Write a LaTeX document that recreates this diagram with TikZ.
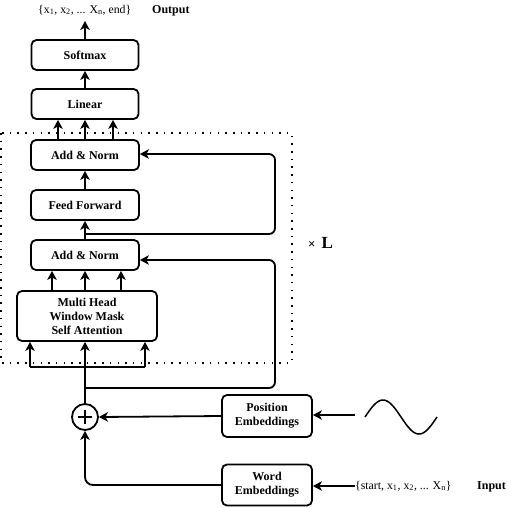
\documentclass[tikz,border=0pt]{standalone}
\usepackage{fontspec}
\setmainfont{Liberation Serif}
\usetikzlibrary{arrows.meta,positioning}
\tikzset{
  blk/.style={draw, line width=1.8pt, rounded corners=5pt, align=center,
    font=\fontsize{12}{14}\selectfont\bfseries, inner sep=0pt},
  arr/.style={line width=1.8pt, -{Stealth[length=9pt,width=9.5pt,inset=2.5pt]}},
  ln/.style={line width=1.8pt},
  lbl/.style={font=\fontsize{12}{14}\selectfont\bfseries, inner sep=0pt},
  seq/.style={font=\fontsize{11.8}{13}\selectfont, inner sep=0pt},
}
\begin{document}
\begin{tikzpicture}[x=1pt,y=-1pt]
\useasboundingbox (0,0) rectangle (511,507);
% dotted repeat frame
\draw[line width=1.5pt, dash pattern=on 1.5pt off 6.2pt] (1,133) rectangle (292,363);
% boxes
\node[blk, minimum width=107pt, minimum height=30pt] (soft) at (85,55) {Softmax};
\node[blk, minimum width=107pt, minimum height=30pt] (lin) at (85,104) {Linear};
\node[blk, minimum width=108pt, minimum height=30pt] (an2) at (85,155) {Add \& Norm};
\node[blk, minimum width=108pt, minimum height=30pt] (ff) at (85,205) {Feed Forward};
\node[blk, minimum width=108pt, minimum height=30pt] (an1) at (85,255) {Add \& Norm};
\node[blk, minimum width=140pt, minimum height=50pt] (mha) at (87,316) {Multi Head\\Window Mask\\Self Attention};
\node[blk, minimum width=90pt, minimum height=42pt] (pos) at (267,416) {Position\\Embeddings};
\node[blk, minimum width=90pt, minimum height=41pt] (word) at (267,485) {Word\\Embeddings};
\node[draw, circle, line width=1.8pt, minimum size=26pt, inner sep=0pt] (plus) at (85,417) {};
\draw[line width=1.8pt] (plus.center) ++(-7,0) -- ++(14,0) (plus.center) ++(0,-7) -- ++(0,14);
% texts
\node[seq, anchor=west] (outseq) at (38,10) {\{x\textsubscript{1}, x\textsubscript{2}, ... X\textsubscript{n}, end\}};
\node[lbl, anchor=west] (outl) at (152,11) {Output};
\node[seq, anchor=west] (inseq) at (355,486) {\{start, x\textsubscript{1}, x\textsubscript{2}, ... X\textsubscript{n}\}};
\node[lbl, anchor=west] (inl) at (477,487) {Input};
\node[inner sep=0pt, anchor=west] (times) at (308,243) {{\fontsize{13}{14}\selectfont\bfseries ×}\hspace{6pt}{\fontsize{17}{19}\selectfont\bfseries L}};
% coordinates
\coordinate (outtop) at (85,21);
\coordinate (sinL) at (355,415);
% vertical arrows
\draw[arr] (soft.north) -- (outtop);
\draw[arr] (lin.north) -- (soft.south);
\foreach \xx in {58,85,113} \draw[arr] (an2.north -| \xx,0) -- (lin.south -| \xx,0);
\draw[arr] (ff.north) -- (an2.south);
\draw[arr] (an1.north) -- (ff.south);
\foreach \xx in {52,85,121} \draw[arr] (mha.north -| \xx,0) -- (an1.south -| \xx,0);
% residual connections
\draw[arr, rounded corners=6pt] (85,234) -- (275,234) -- (275,154) -- (an2.east |- 0,154);
\draw[arr, rounded corners=6pt] (85,388) -- (275,388) -- (275,260) -- (an1.east |- 0,260);
% input to attention
\draw[ln] (30,367) -- (145,367);
\draw[arr] (30,367) -- (mha.south -| 30,0);
\draw[arr] (145,367) -- (mha.south -| 145,0);
\draw[arr] (plus.north) -- (mha.south -| 85,0);
% embeddings
\draw[arr] (pos.west) -- (plus.east);
\draw[arr, rounded corners=8pt] (word.west) -- (85,485) -- (plus.south);
\draw[arr] (sinL) -- (pos.east |- sinL);
\draw[arr] (inseq.west) -- (word.east |- inseq.west);
% sine wave
\draw[line width=1.5pt] plot[domain=0:72, samples=60, smooth] ({\x+365}, {417-17*sin(\x*5)});
\end{tikzpicture}
\end{document}
